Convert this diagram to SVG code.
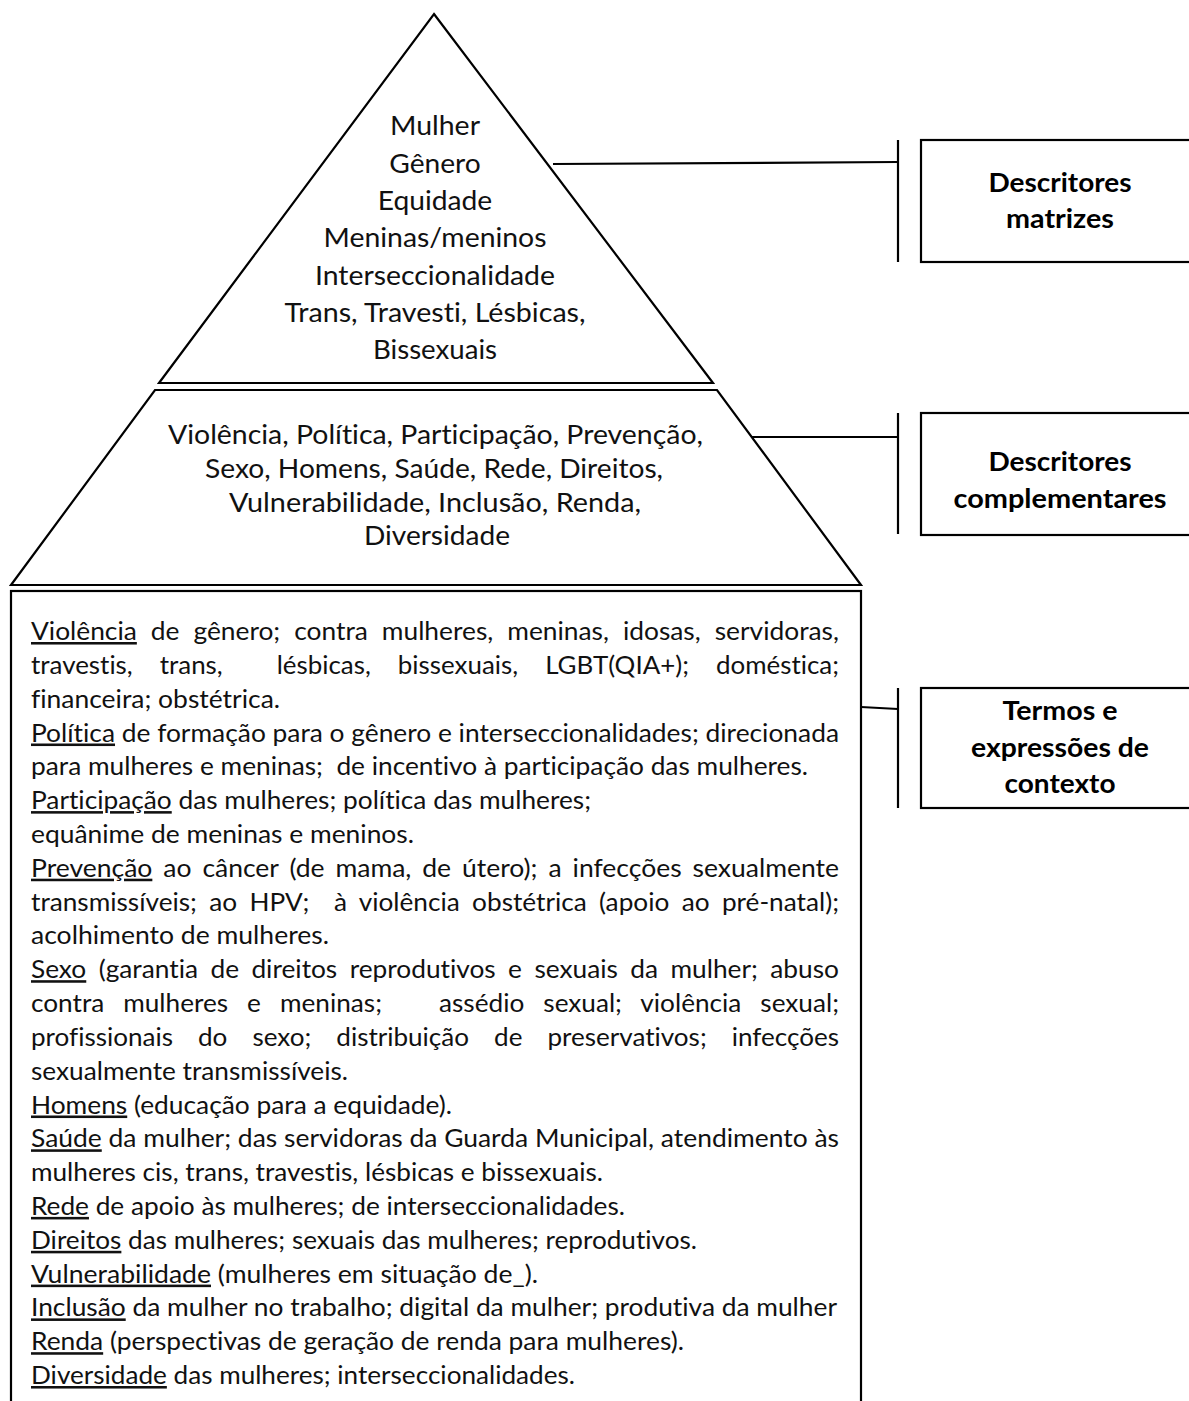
<svg xmlns="http://www.w3.org/2000/svg" width="1189" height="1401" viewBox="0 0 1189 1401">
<style>
.shape{fill:#fff;stroke:#000;stroke-width:2.2;stroke-linejoin:miter}
.conn{fill:none;stroke:#000;stroke-width:2.2}
text{font-variant-ligatures:none;font-feature-settings:"liga" 0,"dlig" 0}
.pt{font-family:Lato,"Liberation Sans",sans-serif;font-size:27.5px;fill:#111;text-anchor:middle}
.lb{font-family:Lato,"Liberation Sans",sans-serif;font-size:27.5px;font-weight:bold;fill:#000;text-anchor:middle}
.bt{font-family:Lato,"Liberation Sans",sans-serif;font-size:25.5px;fill:#111}
.u{text-decoration:underline}
</style>
<rect width="1189" height="1401" fill="#fff"/>
<g id="connectors">
<line class="conn" x1="553" y1="164" x2="898" y2="162"/>
<line class="conn" x1="898" y1="140" x2="898" y2="262"/>
<line class="conn" x1="751" y1="437" x2="898" y2="437"/>
<line class="conn" x1="898" y1="413" x2="898" y2="534"/>
<line class="conn" x1="861" y1="707" x2="898" y2="709"/>
<line class="conn" x1="898" y1="688" x2="898" y2="808"/>
</g>
<g id="pyramid-top">
<polygon class="shape" points="434,14 713,383 159,383"/>
<text class="pt" x="435" y="135" textLength="90" lengthAdjust="spacingAndGlyphs">Mulher</text>
<text class="pt" x="435" y="172.5" textLength="91.5" lengthAdjust="spacingAndGlyphs">Gênero</text>
<text class="pt" x="435" y="210" textLength="114.5" lengthAdjust="spacingAndGlyphs">Equidade</text>
<text class="pt" x="435" y="247" textLength="223" lengthAdjust="spacingAndGlyphs">Meninas/meninos</text>
<text class="pt" x="435" y="284.5" textLength="240" lengthAdjust="spacingAndGlyphs">Interseccionalidade</text>
<text class="pt" x="435" y="322" textLength="301" lengthAdjust="spacingAndGlyphs">Trans, Travesti, Lésbicas,</text>
<text class="pt" x="435" y="359" textLength="124" lengthAdjust="spacingAndGlyphs">Bissexuais</text>
</g>
<g id="pyramid-middle">
<polygon class="shape" points="155,390 717,390 861,585 11,585"/>
<text class="pt" x="435.5" y="444" textLength="535" lengthAdjust="spacingAndGlyphs">Violência, Política, Participação, Prevenção,</text>
<text class="pt" x="434" y="478" textLength="458" lengthAdjust="spacingAndGlyphs">Sexo, Homens, Saúde, Rede, Direitos,</text>
<text class="pt" x="435" y="512" textLength="412" lengthAdjust="spacingAndGlyphs">Vulnerabilidade, Inclusão, Renda,</text>
<text class="pt" x="437" y="545" textLength="146" lengthAdjust="spacingAndGlyphs">Diversidade</text>
</g>
<g id="context-box">
<rect class="shape" x="11" y="591" width="850" height="830"/>
<text class="bt" x="31" y="640" textLength="808" lengthAdjust="spacingAndGlyphs" style="word-spacing:7px"><tspan class="u">Violência</tspan> de gênero; contra mulheres, meninas, idosas, servidoras,</text>
<text class="bt" x="31" y="673.8" textLength="808" lengthAdjust="spacingAndGlyphs" style="word-spacing:20px" xml:space="preserve">travestis, trans,  lésbicas, bissexuais, LGBT(QIA+); doméstica;</text>
<text class="bt" x="31" y="707.6" textLength="249" lengthAdjust="spacingAndGlyphs">financeira; obstétrica.</text>
<text class="bt" x="31" y="741.5" textLength="808" lengthAdjust="spacingAndGlyphs"><tspan class="u">Política</tspan> de formação para o gênero e interseccionalidades; direcionada</text>
<text class="bt" x="31" y="775.3" textLength="777" lengthAdjust="spacingAndGlyphs" xml:space="preserve">para mulheres e meninas;  de incentivo à participação das mulheres.</text>
<text class="bt" x="31" y="809.1" textLength="560" lengthAdjust="spacingAndGlyphs"><tspan class="u">Participação</tspan> das mulheres; política das mulheres;</text>
<text class="bt" x="31" y="842.9" textLength="383" lengthAdjust="spacingAndGlyphs">equânime de meninas e meninos.</text>
<text class="bt" x="31" y="876.7" textLength="808" lengthAdjust="spacingAndGlyphs" style="word-spacing:4px"><tspan class="u">Prevenção</tspan> ao câncer (de mama, de útero); a infecções sexualmente</text>
<text class="bt" x="31" y="910.6" textLength="808" lengthAdjust="spacingAndGlyphs" style="word-spacing:5.5px" xml:space="preserve">transmissíveis; ao HPV;  à violência obstétrica (apoio ao pré-natal);</text>
<text class="bt" x="31" y="944.4" textLength="298" lengthAdjust="spacingAndGlyphs">acolhimento de mulheres.</text>
<text class="bt" x="31" y="978.2" textLength="808" lengthAdjust="spacingAndGlyphs" style="word-spacing:5.5px"><tspan class="u">Sexo</tspan> (garantia de direitos reprodutivos e sexuais da mulher; abuso</text>
<text class="bt" x="31" y="1012" textLength="808" lengthAdjust="spacingAndGlyphs" style="word-spacing:12px" xml:space="preserve">contra mulheres e meninas;   assédio sexual; violência sexual;</text>
<text class="bt" x="31" y="1045.8" textLength="808" lengthAdjust="spacingAndGlyphs" style="word-spacing:18px">profissionais do sexo; distribuição de preservativos; infecções</text>
<text class="bt" x="31" y="1079.7" textLength="317" lengthAdjust="spacingAndGlyphs">sexualmente transmissíveis.</text>
<text class="bt" x="31" y="1113.5" textLength="421" lengthAdjust="spacingAndGlyphs"><tspan class="u">Homens</tspan> (educação para a equidade).</text>
<text class="bt" x="31" y="1147.3" textLength="808" lengthAdjust="spacingAndGlyphs"><tspan class="u">Saúde</tspan> da mulher; das servidoras da Guarda Municipal, atendimento às</text>
<text class="bt" x="31" y="1181.1" textLength="572" lengthAdjust="spacingAndGlyphs">mulheres cis, trans, travestis, lésbicas e bissexuais.</text>
<text class="bt" x="31" y="1214.9" textLength="594" lengthAdjust="spacingAndGlyphs"><tspan class="u">Rede</tspan> de apoio às mulheres; de interseccionalidades.</text>
<text class="bt" x="31" y="1248.8" textLength="666" lengthAdjust="spacingAndGlyphs"><tspan class="u">Direitos</tspan> das mulheres; sexuais das mulheres; reprodutivos.</text>
<text class="bt" x="31" y="1282.6" textLength="507" lengthAdjust="spacingAndGlyphs"><tspan class="u">Vulnerabilidade</tspan> (mulheres em situação de_).</text>
<text class="bt" x="31" y="1316.4" textLength="806" lengthAdjust="spacingAndGlyphs"><tspan class="u">Inclusão</tspan> da mulher no trabalho; digital da mulher; produtiva da mulher</text>
<text class="bt" x="31" y="1350.2" textLength="653" lengthAdjust="spacingAndGlyphs"><tspan class="u">Renda</tspan> (perspectivas de geração de renda para mulheres).</text>
<text class="bt" x="31" y="1384" textLength="544" lengthAdjust="spacingAndGlyphs"><tspan class="u">Diversidade</tspan> das mulheres; interseccionalidades.</text>
</g>
<g id="label-matrizes">
<rect class="shape" x="921" y="140" width="300" height="122"/>
<text class="lb" x="1060" y="192" textLength="143" lengthAdjust="spacingAndGlyphs">Descritores</text>
<text class="lb" x="1060" y="228" textLength="108" lengthAdjust="spacingAndGlyphs">matrizes</text>
</g>
<g id="label-complementares">
<rect class="shape" x="921" y="413" width="300" height="122"/>
<text class="lb" x="1060" y="471" textLength="143" lengthAdjust="spacingAndGlyphs">Descritores</text>
<text class="lb" x="1060" y="508" textLength="213" lengthAdjust="spacingAndGlyphs">complementares</text>
</g>
<g id="label-contexto">
<rect class="shape" x="921" y="688" width="300" height="120"/>
<text class="lb" x="1060" y="720" textLength="115" lengthAdjust="spacingAndGlyphs">Termos e</text>
<text class="lb" x="1060" y="757" textLength="178" lengthAdjust="spacingAndGlyphs">expressões de</text>
<text class="lb" x="1060" y="793" textLength="111" lengthAdjust="spacingAndGlyphs">contexto</text>
</g>
</svg>
